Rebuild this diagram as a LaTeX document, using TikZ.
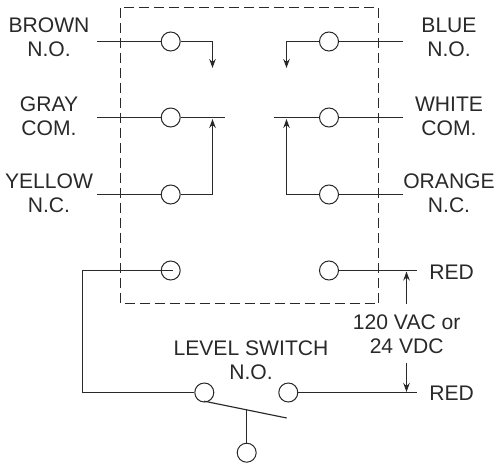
\documentclass[tikz,border=0pt]{standalone}
\usepackage{fontspec}
\setmainfont{Liberation Sans}
\usetikzlibrary{arrows.meta}
\definecolor{ink}{gray}{0.16}
\tikzset{
  wire/.style={draw=ink,line width=1.15pt},
  arrowwire/.style={wire,-{Stealth[length=9pt,width=6.5pt]}},
  frame/.style={draw=ink,line width=1pt,dash pattern=on 10pt off 5pt},
  term/.style={circle,draw=ink,line width=1pt,minimum size=19pt,inner sep=0pt},
  lab/.style={text=ink,font=\fontsize{21.1}{24}\selectfont,align=center,inner sep=0pt}
}
\begin{document}
\begin{tikzpicture}[x=1pt,y=-1pt]
\useasboundingbox (0,0) rectangle (496,463);
\draw[frame] (120.5,7.5) rectangle (378.5,303.5);
% terminals
\node[term] (tl1) at (170.7,41.5) {};
\node[term] (tl2) at (170.7,117.5) {};
\node[term] (tl3) at (170.7,194.5) {};
\node[term] (tl4) at (170.7,270.5) {};
\node[term] (tr1) at (329,41.5) {};
\node[term] (tr2) at (329,117.5) {};
\node[term] (tr3) at (329,194.5) {};
\node[term] (tr4) at (329,270.5) {};
\node[term] (sa) at (204.3,392.5) {};
\node[term] (sb) at (288.3,392.5) {};
\node[term] (sc) at (246.7,452.7) {};
% free ends
\coordinate (el1) at (97,41.5);
\coordinate (el2) at (97,117.5);
\coordinate (el3) at (97,194.5);
\coordinate (er1) at (403,41.5);
\coordinate (er2) at (403,117.5);
\coordinate (er3) at (403,194.5);
\coordinate (al) at (212.5,68);
\coordinate (ar) at (286.5,68);
\coordinate (gl) at (225,117.5);
\coordinate (gr) at (274,117.5);
\coordinate (cl) at (212.5,119);
\coordinate (cr) at (286.5,119);
\coordinate (r1) at (417,270.5);
\coordinate (r2) at (417,392.5);
\coordinate (in) at (172.7,270.5);
\coordinate (cnr1) at (82.5,270.5);
\coordinate (cnr2) at (82.5,392.5);
\coordinate (lev1) at (204.3,401.2);
\coordinate (lev2) at (286.7,418);
\coordinate (levm) at (246.7,410);
\coordinate (va1) at (406.5,303.5);
\coordinate (va2) at (406.5,271.5);
\coordinate (vb1) at (406.5,362.7);
\coordinate (vb2) at (406.5,392);
% wires
\draw[wire] (el1) -- (tl1);
\draw[wire] (el2) -- (tl2);
\draw[wire] (el3) -- (tl3);
\draw[wire] (er1) -- (tr1);
\draw[wire] (er2) -- (tr2);
\draw[wire] (er3) -- (tr3);
\draw[arrowwire] (tl1) -| (al);
\draw[arrowwire] (tr1) -| (ar);
\draw[wire] (tl2) -- (gl);
\draw[wire] (tr2) -- (gr);
\draw[arrowwire] (tl3) -| (cl);
\draw[arrowwire] (tr3) -| (cr);
\draw[wire] (in) -- (cnr1) -- (cnr2) -- (sa);
\draw[wire] (tr4) -- (r1);
\draw[wire] (sb) -- (r2);
\draw[wire] (lev1) -- (lev2);
\draw[wire] (levm) -- (sc);
\draw[arrowwire] (va1) -- (va2);
\draw[arrowwire] (vb1) -- (vb2);
% labels
\node[lab] (lbrown) at (49,37.5) {BROWN\\N.O.};
\node[lab] (lgray) at (49,116.5) {GRAY\\COM.};
\node[lab] (lyellow) at (49,193.5) {YELLOW\\N.C.};
\node[lab] (lblue) at (449,37.5) {BLUE\\N.O.};
\node[lab] (lwhite) at (449,116.5) {WHITE\\COM.};
\node[lab] (lorange) at (449,193.5) {ORANGE\\N.C.};
\node[lab] (lred1) at (451.7,272.5) {RED};
\node[lab] (lred2) at (451.7,393.5) {RED};
\node[lab] (lvolt) at (406.7,334.5) {120 VAC or\\24 VDC};
\node[lab] (llevel) at (251,360.5) {LEVEL SWITCH\\N.O.\hspace{6.5pt}};
\end{tikzpicture}
\end{document}
